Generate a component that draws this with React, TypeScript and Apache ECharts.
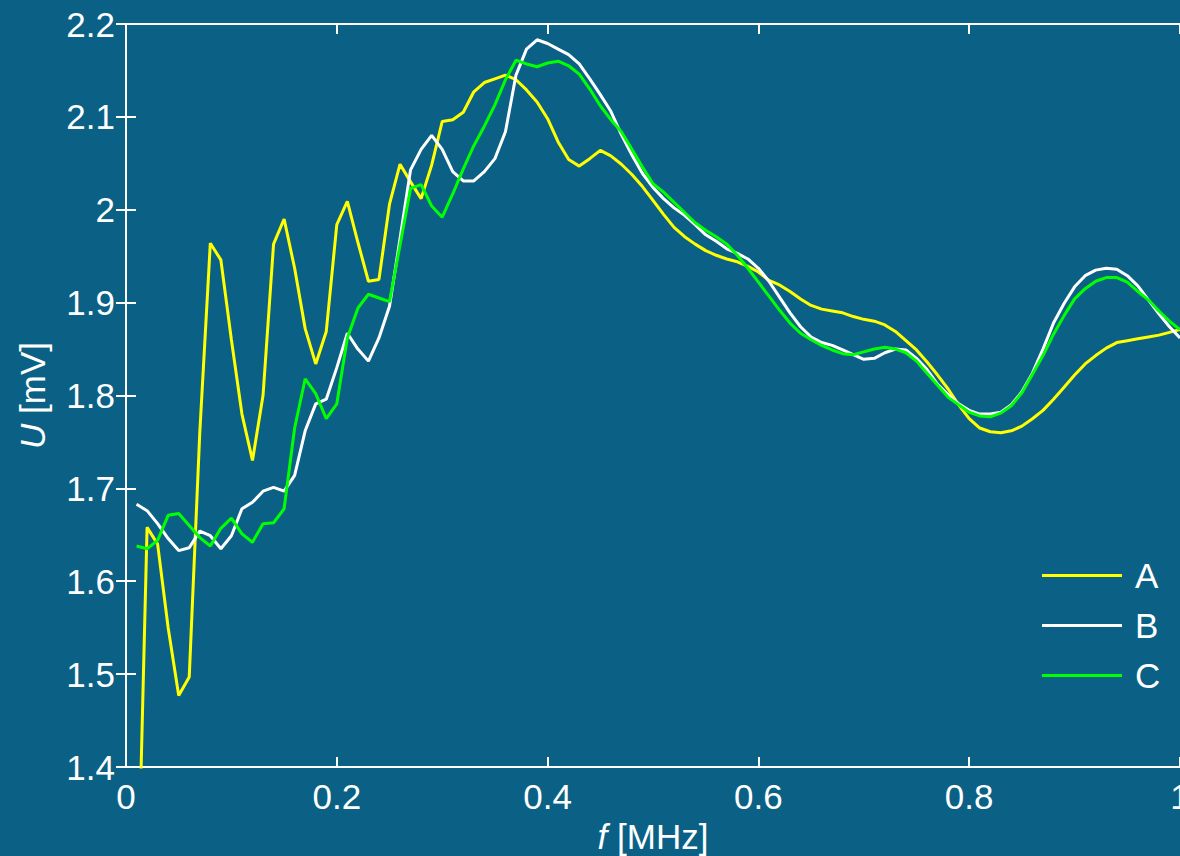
import React, { useEffect, useRef } from "react";
import * as echarts from "echarts";

const FREQ = [
  0.01, 0.02, 0.03, 0.04, 0.05, 0.06, 0.07, 0.08, 0.09, 0.1,
  0.11, 0.12, 0.13, 0.14, 0.15, 0.16, 0.17, 0.18, 0.19, 0.2,
  0.21, 0.22, 0.23, 0.24, 0.25, 0.26, 0.27, 0.28, 0.29, 0.3,
  0.31, 0.32, 0.33, 0.34, 0.35, 0.36, 0.37, 0.38, 0.39, 0.4,
  0.41, 0.42, 0.43, 0.44, 0.45, 0.46, 0.47, 0.48, 0.49, 0.5,
  0.51, 0.52, 0.53, 0.54, 0.55, 0.56, 0.57, 0.58, 0.59, 0.6,
  0.61, 0.62, 0.63, 0.64, 0.65, 0.66, 0.67, 0.68, 0.69, 0.7,
  0.71, 0.72, 0.73, 0.74, 0.75, 0.76, 0.77, 0.78, 0.79, 0.8,
  0.81, 0.82, 0.83, 0.84, 0.85, 0.86, 0.87, 0.88, 0.89, 0.9,
  0.91, 0.92, 0.93, 0.94, 0.95, 0.96, 0.97, 0.98, 0.99, 1.0,
];

const SERIES_A = [
  1.2, 1.658, 1.64, 1.55, 1.477, 1.497, 1.76, 1.964, 1.946, 1.86,
  1.78, 1.73, 1.8, 1.963, 1.99, 1.937, 1.872, 1.834, 1.869, 1.984,
  2.009, 1.965, 1.923, 1.925, 2.006, 2.049, 2.03, 2.012, 2.048, 2.095,
  2.097, 2.105, 2.127, 2.137, 2.141, 2.145, 2.14, 2.129, 2.116, 2.098,
  2.073, 2.054, 2.047, 2.055, 2.064, 2.058, 2.049, 2.038, 2.025, 2.01,
  1.995, 1.981, 1.971, 1.963, 1.956, 1.951, 1.947, 1.944, 1.939, 1.933,
  1.924, 1.919, 1.912, 1.904, 1.897, 1.893, 1.891, 1.889, 1.885, 1.882,
  1.88, 1.876, 1.869, 1.859, 1.849, 1.836, 1.822, 1.807, 1.79, 1.775,
  1.765, 1.761, 1.76, 1.762, 1.767, 1.775, 1.784, 1.796, 1.809, 1.822,
  1.834, 1.843, 1.851, 1.857, 1.859, 1.861, 1.863, 1.865, 1.868, 1.871,
];

const SERIES_B = [
  1.683, 1.676, 1.662, 1.646, 1.633, 1.636, 1.654, 1.649, 1.635, 1.649,
  1.678, 1.685, 1.697, 1.701, 1.697, 1.714, 1.762, 1.791, 1.796, 1.83,
  1.867, 1.85, 1.837, 1.862, 1.896, 1.969, 2.043, 2.065, 2.08, 2.065,
  2.041, 2.031, 2.031, 2.041, 2.055, 2.084, 2.145, 2.173, 2.183, 2.179,
  2.173, 2.167, 2.157, 2.141, 2.124, 2.106, 2.081, 2.059, 2.039, 2.024,
  2.012, 2.002, 1.994, 1.984, 1.973, 1.966, 1.958, 1.953, 1.947, 1.937,
  1.923, 1.906, 1.889, 1.874, 1.863, 1.857, 1.854, 1.849, 1.844, 1.839,
  1.84, 1.846, 1.85, 1.849, 1.84, 1.828, 1.812, 1.801, 1.791, 1.784,
  1.78, 1.78, 1.782, 1.79, 1.804, 1.824, 1.85, 1.878, 1.899, 1.917,
  1.929, 1.935, 1.937, 1.936, 1.929, 1.918, 1.903, 1.888, 1.874, 1.862,
];

const SERIES_C = [
  1.638, 1.635, 1.644, 1.671, 1.673, 1.66, 1.647, 1.638, 1.657, 1.668,
  1.651, 1.642, 1.662, 1.663, 1.678, 1.765, 1.818, 1.802, 1.775, 1.791,
  1.862, 1.894, 1.909, 1.905, 1.901, 1.962, 2.023, 2.027, 2.004, 1.992,
  2.017, 2.044, 2.069, 2.09, 2.113, 2.14, 2.161, 2.157, 2.154, 2.158,
  2.16, 2.155, 2.146, 2.13, 2.112, 2.097, 2.084, 2.065, 2.046, 2.028,
  2.019, 2.008, 1.997, 1.986, 1.978, 1.971, 1.963, 1.951, 1.937, 1.922,
  1.907, 1.892, 1.878, 1.867, 1.86, 1.854, 1.849, 1.845, 1.844, 1.847,
  1.85, 1.852, 1.85, 1.846, 1.837, 1.824, 1.811, 1.798, 1.79, 1.782,
  1.778, 1.777, 1.781, 1.789, 1.803, 1.823, 1.843, 1.866, 1.886, 1.904,
  1.915, 1.923, 1.927, 1.927, 1.922, 1.912, 1.903, 1.891, 1.88, 1.871,
];

const SERIES_NAMES = ["A", "B", "C"];
const SERIES_COLORS = ["#ffff00", "#ffffff", "#00ff00"];
const X_NAME = "{i|f} [MHz]";
const Y_NAME = "{i|U} [mV]";

const BG = "#0b6185";
const FONT = "Liberation Sans";
const FS = 35;

export default function App() {
  const ref = useRef<HTMLDivElement>(null);

  useEffect(() => {
    if (!ref.current) return;
    const chart = echarts.init(ref.current, null, { renderer: "svg" });
    const values = [SERIES_A, SERIES_B, SERIES_C];

    const axisLine = { show: true, lineStyle: { color: "#ffffff", width: 2 } };
    const axisTick = {
      show: true,
      inside: true,
      length: 10,
      lineStyle: { color: "#ffffff", width: 2 },
    };
    const labelStyle = {
      color: "#ffffff",
      fontSize: FS,
      fontFamily: FONT,
    };
    const nameStyle = {
      color: "#ffffff",
      fontSize: FS,
      fontFamily: FONT,
      rich: { i: { fontStyle: "italic", fontSize: FS, fontFamily: FONT, color: "#ffffff" } },
    };

    chart.setOption({
      animation: false,
      backgroundColor: BG,
      grid: {
        left: 126,
        right: 0,
        top: 24,
        bottom: 89,
        containLabel: false,
        outerBoundsMode: "none",
      },
      legend: {
        orient: "vertical",
        left: 1042,
        top: 558,
        padding: 0,
        icon: "rect",
        itemWidth: 80,
        itemHeight: 3,
        itemGap: 15,
        data: SERIES_NAMES,
        textStyle: {
          color: "#ffffff",
          fontSize: FS,
          fontFamily: FONT,
          lineHeight: 35,
          padding: [0, 0, 0, 8],
        },
      },
      xAxis: [
        {
          type: "value",
          min: 0,
          max: 1,
          interval: 0.2,
          position: "bottom",
          splitLine: { show: false },
          axisLine,
          axisTick,
          axisLabel: { ...labelStyle, margin: 12 },
          name: X_NAME,
          nameLocation: "middle",
          nameGap: 50,
          nameTextStyle: nameStyle,
        },
        {
          type: "value",
          min: 0,
          max: 1,
          interval: 0.2,
          position: "top",
          splitLine: { show: false },
          axisLine,
          axisTick,
          axisLabel: { show: false },
        },
      ],
      yAxis: [
        {
          type: "value",
          min: 1.4,
          max: 2.2,
          interval: 0.1,
          position: "left",
          splitLine: { show: false },
          axisLine,
          axisTick,
          axisLabel: { ...labelStyle, margin: 11 },
          name: Y_NAME,
          nameLocation: "middle",
          nameGap: 76,
          nameTextStyle: nameStyle,
        },
        {
          type: "value",
          min: 1.4,
          max: 2.2,
          interval: 0.1,
          position: "right",
          splitLine: { show: false },
          axisLine,
          axisTick,
          axisLabel: { show: false },
        },
      ],
      series: SERIES_NAMES.map((name, k) => ({
        name,
        type: "line",
        xAxisIndex: 0,
        yAxisIndex: 0,
        showSymbol: false,
        symbol: "none",
        clip: true,
        color: SERIES_COLORS[k],
        lineStyle: { color: SERIES_COLORS[k], width: 3 },
        data: FREQ.map((f, i) => [f, values[k][i]]),
      })),
    });

    return () => chart.dispose();
  }, []);

  return (
    <div
      ref={ref}
      style={{ position: "fixed", left: 0, top: 0, width: 1180, height: 856 }}
    />
  );
}
